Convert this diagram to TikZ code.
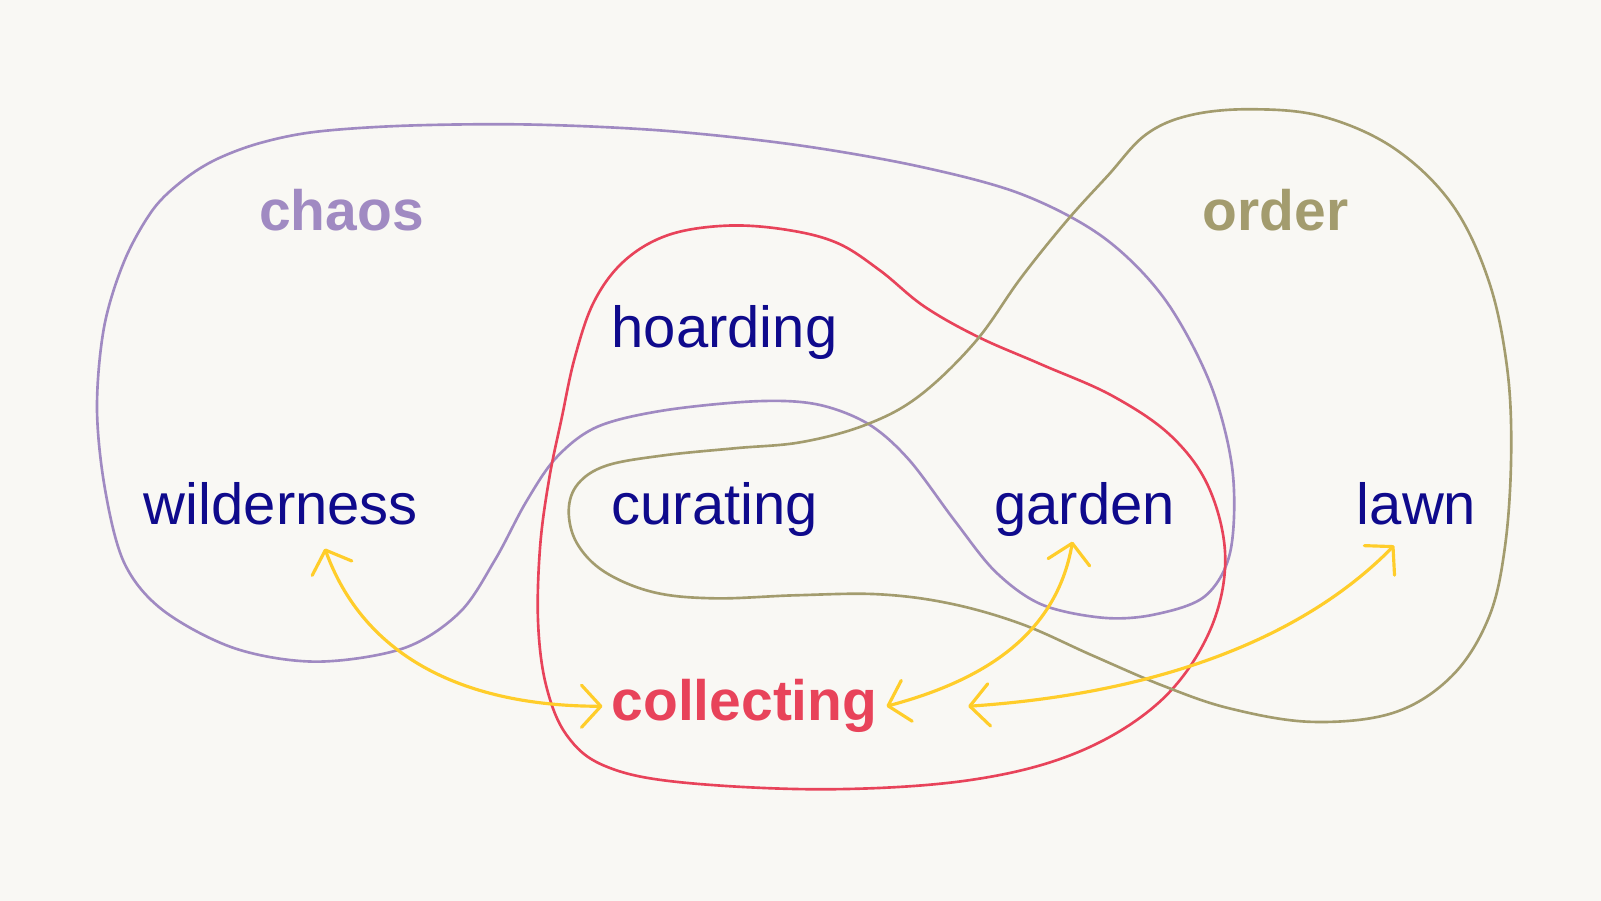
\documentclass[tikz,border=0pt]{standalone}
\usepackage{fontspec}
\setmainfont{Liberation Sans}
\usetikzlibrary{calc,arrows.meta}

\definecolor{paper}{HTML}{F9F8F4}
\definecolor{ink}{HTML}{0F0A8C}
\definecolor{chaosc}{HTML}{A08AC2}
\definecolor{orderc}{HTML}{A39C6E}
\definecolor{collectc}{HTML}{E8435A}
\definecolor{gold}{HTML}{FFCD2A}

\begin{document}
\begin{tikzpicture}[x=0.010211cm,y=-0.010211cm,
 word/.style={anchor=base west,inner xsep=2.4pt,inner ysep=0pt,text=ink,
   font=\fontsize{16.5}{20}\selectfont},
 heading/.style={word,font=\fontsize{16.2}{20}\selectfont\bfseries},
 blob/.style={line width=0.75pt},
 link/.style={draw=gold,line width=0.9pt,line cap=round,
   >={Straight Barb[length=5.5pt,width=12pt,round]},<->}]

\fill[paper] (0,0) rectangle (1568,882.4);
\useasboundingbox (0,0) rectangle (1568,882.4);

% chaos
\draw[blob,chaosc] plot[smooth cycle,tension=0.55] coordinates {
 (212,156) (255,140) (310,129) (400,123) (520,122) (650,128) (780,142)
 (900,163) (1000,190) (1080,232) (1140,292) (1185,375) (1207,460)
 (1205,540) (1180,584) (1130,602) (1080,605) (1020,592) (975,560)
 (935,510) (890,450) (850,415) (800,396) (740,393) (650,402) (585,418)
 (545,448) (515,492) (485,548) (450,600) (395,635) (310,648) (230,635)
 (160,598) (122,552) (103,480) (95,400) (102,320) (122,255) (150,205)
 (180,176)};

% collecting
\draw[blob,collectc] plot[smooth cycle,tension=0.6] coordinates {
 (712,221) (655,230) (612,255) (582,295) (563,350) (550,410) (538,468)
 (529,535) (527,610) (535,672) (555,720) (592,750) (665,766) (810,773)
 (950,764) (1055,737) (1135,688) (1183,622) (1200,550) (1185,480)
 (1148,428) (1090,388) (1020,357) (958,330) (905,300) (862,265)
 (820,238) (770,225)};

% order
\draw[blob,orderc] plot[smooth cycle,tension=0.6] coordinates {
 (557,500) (566,474) (594,456) (650,446) (720,439) (785,433) (848,416)
 (900,388) (955,335) (1000,272) (1045,216) (1085,172) (1122,132)
 (1165,113) (1225,107) (1295,114) (1365,145) (1422,200) (1458,275)
 (1476,360) (1480,445) (1474,535) (1458,605) (1422,662) (1365,698)
 (1285,707) (1205,694) (1140,672) (1070,642) (1000,611) (930,591)
 (860,582) (780,583) (700,586) (640,580) (592,560) (565,532)};

\node[heading,text=chaosc] (chaos) at (245,226) {chaos};
\node[heading,text=orderc] (order) at (1169,226) {order};
\node[heading,text=collectc] (collecting) at (590,706) {collecting};
\node[word] (hoarding) at (590,340) {hoarding};
\node[word] (wilderness) at (132,514) {wilderness};
\node[word] (curating) at (590,514) {curating};
\node[word] (garden) at (965,514) {garden};
\node[word] (lawn) at (1320,514) {lawn};

\draw[link] (collecting.west) to[out=180,in=-70] ($(wilderness.south)+(43,22)$);
\draw[link] (collecting.east) to[out=15,in=-100] ($(garden.south)+(-12,4)$);
\draw[link] ($(collecting.east)+(80,0)$) .. controls +(150,-10) and +(-105,107)
  .. ($(lawn.south)+(-22,19)$);

\end{tikzpicture}
\end{document}
